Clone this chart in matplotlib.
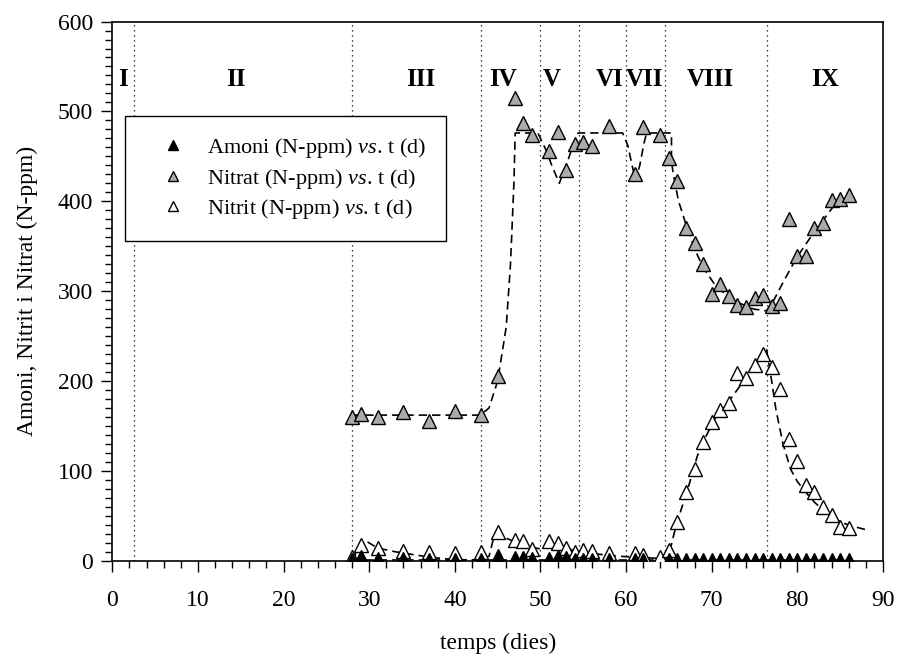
import numpy as np
import matplotlib
matplotlib.use('Agg')
import matplotlib.pyplot as plt
from matplotlib.ticker import MultipleLocator

plt.rcParams['font.family'] = ['Liberation Serif', 'DejaVu Serif']
plt.rcParams['mathtext.fontset'] = 'custom'
plt.rcParams['mathtext.rm'] = 'Liberation Serif'
plt.rcParams['mathtext.it'] = 'Liberation Serif:italic'

# measured points (days, N-ppm)
amoni_t = [28, 29, 31, 34, 37, 40, 43, 45, 47, 48, 49, 51, 52, 53, 54, 55, 56, 58, 61, 62,
           65, 66, 67, 68, 69, 70, 71, 72, 73, 74, 75, 76, 77, 78, 79, 80, 81, 82, 83, 84, 85, 86]
amoni_v = [1, 4, 2, 2, 1, 1, 1, 5, 3, 3, 2, 2, 4, 3, 1, 1, 1, 1, 1, 1,
           1, 1, 1, 1, 1, 1, 1, 1, 1, 1, 1, 1, 1, 1, 1, 1, 1, 1, 1, 1, 1, 1]

nitrat_t = [28, 29, 31, 34, 37, 40, 43, 45, 47, 48, 49, 51, 52, 53, 54, 55, 56, 58, 61, 62, 64, 65,
            66, 67, 68, 69, 70, 71, 72, 73, 74, 75, 76, 77, 78, 79, 80, 81, 82, 83, 84, 85, 86]
nitrat_v = [160, 163, 160, 165, 155, 167, 162, 205, 515, 487, 474, 456, 477, 435, 464, 466, 462, 484, 430, 483, 474, 448,
            423, 370, 353, 330, 297, 308, 295, 285, 282, 292, 296, 283, 287, 380, 339, 339, 370, 376, 401, 402, 407]

nitrit_t = [28, 29, 31, 34, 37, 40, 43, 45, 47, 48, 49, 51, 52, 53, 54, 55, 56, 58, 61, 62, 64, 65,
            66, 67, 68, 69, 70, 71, 72, 73, 74, 75, 76, 77, 78, 79, 80, 81, 82, 83, 84, 85, 86]
nitrit_v = [4, 17, 14, 11, 10, 9, 10, 32, 23, 22, 13, 22, 20, 14, 10, 12, 11, 9, 8, 6, 4, 12,
            43, 76, 102, 132, 154, 168, 176, 209, 203, 218, 230, 215, 191, 135, 111, 84, 76, 60, 51, 38, 36]

# fitted (dashed) curves
fit_nitrat_t = [28, 43, 44, 45, 46, 46.5, 46.9, 47.05, 49.7, 50.6, 51.4, 52.2, 53.0, 53.8, 54.4,
                59.6, 60.2, 60.7, 61.1, 61.6, 62.1, 62.4, 65.3, 65.3, 65.5, 66.1, 67.1, 68.1, 69.0, 70.6,
                72.9, 74.9, 76.4, 77.2, 78.4, 79.9, 81.9, 83.8, 84.5]
fit_nitrat_v = [162, 162, 170, 200, 260, 330, 420, 476, 476, 458, 438, 420, 440, 462, 476,
                476, 462, 440, 423, 440, 465, 476, 476, 445, 431, 401, 371, 345, 326, 304,
                288, 280, 278, 289, 311, 337, 365, 389, 398]

fit_nitrit_t = [28, 29, 29.6, 31, 33, 35, 37, 39, 41, 43, 44, 44.6, 45, 46, 47, 48, 49, 50, 51, 52, 53,
                54, 55, 57, 59, 61, 63, 64.5, 65.05, 65.6, 66.4, 67.4, 68.3, 69.3, 70.5, 71.8, 73.2, 74.4,
                75.5, 76.4, 77.0, 77.5, 78.3, 79.2, 80.0, 81.0, 82.0, 83.3, 84.5, 85.6, 87.0, 88.2]
fit_nitrit_v = [0, 18, 22, 14, 10, 7, 4, 2, 1, 1, 5, 28, 30, 25, 21, 18, 15, 13, 20, 18, 14,
                11, 9, 7, 5, 4, 3, 2, 8, 30, 56, 86, 116, 138, 160, 175, 193, 212,
                223, 235, 200, 168, 131, 102, 88, 76, 65, 54, 46, 41, 37, 34]

fit_amoni_t = [28, 86]
fit_amoni_v = [0.5, 0.5]

phase_edges = [2.5, 28, 43, 50, 54.5, 60, 64.5, 76.5]
phase_names = ['I', 'II', 'III', 'IV', 'V', 'VI', 'VII', 'VIII', 'IX']
phase_x = [1.3, 14.4, 36.0, 45.6, 51.3, 58.1, 62.2, 69.8, 83.2]

fig = plt.figure(figsize=(8.99, 6.59), dpi=100)
ax = fig.add_axes([0.1249, 0.1492, 0.8573, 0.8181])

for xe in phase_edges:
    ax.axvline(xe, color='k', linestyle=(0, (1, 3)), linewidth=0.9, zorder=1)

for name, xp in zip(phase_names, phase_x):
    ax.text(xp, 536, name, ha='center', va='center', fontsize=18, fontweight='bold')

dash = dict(color='k', linestyle=(0, (5, 3)), linewidth=1.2, zorder=2)
ax.plot(fit_amoni_t, fit_amoni_v, **dash)
ax.plot(fit_nitrat_t, fit_nitrat_v, **dash)
ax.plot(fit_nitrit_t, fit_nitrit_v, **dash)

mk = dict(linestyle='none', marker='^', markersize=10, markeredgecolor='k', markeredgewidth=1.0, zorder=3)
ax.plot(nitrit_t, nitrit_v, markerfacecolor='white',
        label='Nitrit (N-ppm) $\\it{vs}$. t (d)', **mk)
ax.plot(nitrat_t, nitrat_v, markerfacecolor='#ababab',
        label='Nitrat (N-ppm) $\\it{vs}$. t (d)', **mk)
ax.plot(amoni_t, amoni_v, markerfacecolor='k',
        label='Amoni (N-ppm) $\\it{vs}$. t (d)', **mk)

ax.set_xlim(0, 90)
ax.set_ylim(0, 600)
ax.xaxis.set_major_locator(MultipleLocator(10))
ax.xaxis.set_minor_locator(MultipleLocator(2))
ax.yaxis.set_major_locator(MultipleLocator(100))
ax.yaxis.set_minor_locator(MultipleLocator(10))
ax.tick_params(which='major', direction='out', length=8, width=1, labelsize=17, pad=13)
ax.tick_params(which='minor', direction='out', length=5, width=1)
ax.tick_params(axis='y', which='major', pad=6)
for s in ax.spines.values():
    s.set_linewidth(1.2)

ax.set_xlabel('temps (dies)', fontsize=17, labelpad=16)
ax.set_ylabel('Amoni, Nitrit i Nitrat (N-ppm)', fontsize=17, labelpad=14)

h, l = ax.get_legend_handles_labels()
leg = ax.legend(h[::-1], l[::-1], loc='upper left', bbox_to_anchor=(0.0165, 0.825),
                borderaxespad=0, fontsize=16, frameon=True, fancybox=False,
                edgecolor='k', framealpha=1, markerscale=0.7, borderpad=0.9,
                handlelength=2.5, handletextpad=0.3, labelspacing=0.3)
leg.get_frame().set_linewidth(1.0)
leg.set_zorder(5)

plt.savefig('out.png', dpi=100)
